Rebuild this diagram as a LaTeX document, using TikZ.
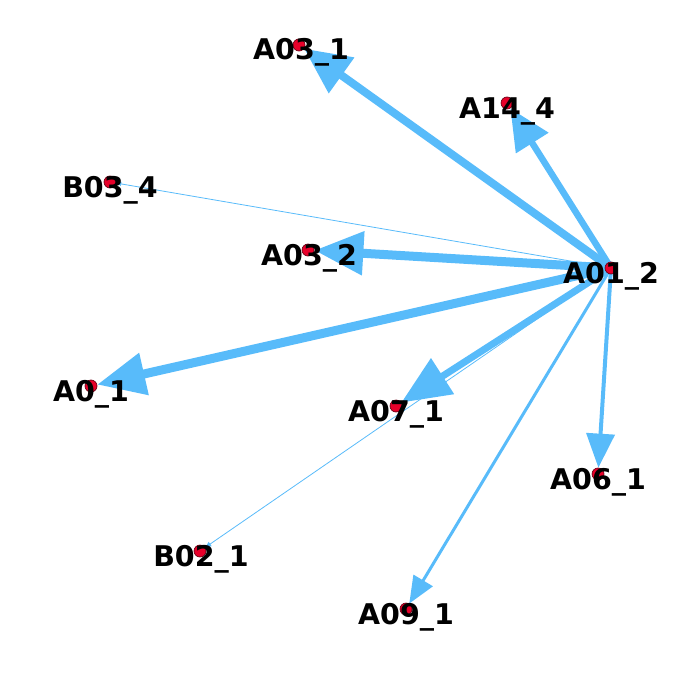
\documentclass[tikz,border=0pt]{standalone}
\usepackage{fontspec}
\setmainfont{DejaVu Sans}
\usetikzlibrary{arrows.meta}
\definecolor{edgeblue}{RGB}{88,187,250}
\definecolor{dotred}{RGB}{232,0,42}
\definecolor{dotedge}{RGB}{110,0,20}
\pgfdeclarelayer{edgelayer}
\pgfsetlayers{edgelayer,main}
\tikzset{
  dot/.style={circle,minimum size=12pt,inner sep=0pt,fill=dotred,draw=dotedge,line width=0.7pt},
  lbl/.style={anchor=base,inner sep=0pt,font=\fontsize{28.5}{32}\selectfont\bfseries,text=black},
  edge/.style={draw=edgeblue,line cap=butt},
}
\begin{document}
\begin{tikzpicture}[x=1pt,y=-1pt]
\useasboundingbox (0,0) rectangle (684,674);
% dots
\node[dot] (A012) at (611,268) {};
\node[dot] (A031) at (299,45) {};
\node[dot] (A144) at (507,103) {};
\node[dot] (B034) at (110,182) {};
\node[dot] (A032) at (308,250) {};
\node[dot] (A01)  at (91,386) {};
\node[dot] (A071) at (396,406) {};
\node[dot] (A061) at (598,474) {};
\node[dot] (B021) at (200,551) {};
\node[dot] (A091) at (406,609) {};
% labels
\node[lbl] (tA012) at (611,283) {A01\_2};
\node[lbl] (tA031) at (301,60) {A03\_1};
\node[lbl] (tA144) at (507,118) {A14\_4};
\node[lbl] (tB034) at (110,197) {B03\_4};
\node[lbl] (tA032) at (309,265) {A03\_2};
\node[lbl] (tA01)  at (91,401) {A0\_1};
\node[lbl] (tA071) at (396,421) {A07\_1};
\node[lbl] (tA061) at (598,489) {A06\_1};
\node[lbl] (tB021) at (201,566) {B02\_1};
\node[lbl] (tA091) at (406,624) {A09\_1};
% edges
\begin{pgfonlayer}{edgelayer}
\draw[edge,line width=8pt,-{Triangle[length=46pt,width=42pt]}] (A012.center) -- (A031);
\draw[edge,line width=6.5pt,-{Triangle[length=41pt,width=37pt]}] (A012.center) -- (A144);
\draw[edge,line width=0.8pt,-{Triangle[length=5pt,width=4pt]}] (A012.center) -- (B034);
\draw[edge,line width=9pt,-{Triangle[length=49pt,width=42pt]}] (A012.center) -- (A032);
\draw[edge,line width=9pt,-{Triangle[length=48pt,width=41pt]}] (A012.center) -- (A01);
\draw[edge,line width=7pt,-{Triangle[length=49pt,width=41pt]}] (A012.center) -- (A071);
\draw[edge,line width=4pt,-{Triangle[length=34pt,width=28pt]}] (A012.center) -- (A061);
\draw[edge,line width=3pt,-{Triangle[length=27pt,width=22pt]}] (A012.center) -- (A091);
\draw[edge,line width=0.8pt,-{Triangle[length=6pt,width=5pt]}] (A012.center) -- (B021);
\end{pgfonlayer}
\end{tikzpicture}
\end{document}
